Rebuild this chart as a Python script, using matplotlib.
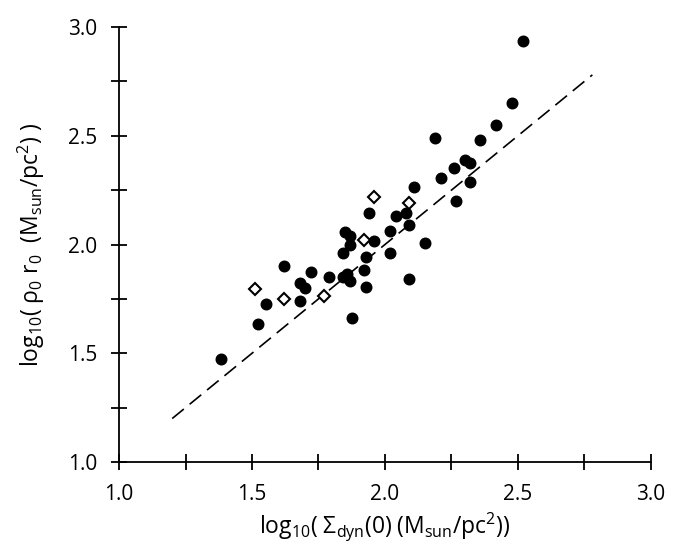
import matplotlib
matplotlib.use('Agg')
import matplotlib.pyplot as plt
from matplotlib.ticker import MultipleLocator

plt.rcParams['font.family'] = ['Open Sans', 'DejaVu Sans']
plt.rcParams['mathtext.fontset'] = 'custom'
plt.rcParams['mathtext.rm'] = 'Open Sans'
plt.rcParams['mathtext.it'] = 'Open Sans'
plt.rcParams['mathtext.default'] = 'regular'

# filled circles: log10 Sigma_dyn(0), log10 rho0 r0
dots_x = [1.382, 1.521, 1.553, 1.619, 1.680, 1.699, 1.680, 1.721, 1.789, 1.841,
          1.850, 1.868, 1.868, 1.841, 1.856, 1.868, 1.878, 1.922, 1.929, 1.929,
          1.939, 1.959, 2.019, 2.019, 2.040, 2.079, 2.090, 2.090, 2.109, 2.150,
          2.211, 2.518, 2.476, 2.417, 2.357, 2.188, 2.301, 2.320, 2.259, 2.320,
          2.269]
dots_y = [1.474, 1.634, 1.726, 1.901, 1.824, 1.801, 1.742, 1.875, 1.852, 1.960,
          2.059, 2.041, 1.998, 1.852, 1.864, 1.834, 1.664, 1.883, 1.941, 1.806,
          2.143, 2.016, 2.062, 1.962, 2.131, 2.146, 2.090, 1.843, 2.263, 2.005,
          2.304, 2.937, 2.652, 2.549, 2.480, 2.491, 2.389, 2.376, 2.353, 2.287,
          2.200]

# open diamonds
diam_x = [1.511, 1.620, 1.771, 1.921, 1.959, 2.090]
diam_y = [1.795, 1.751, 1.763, 2.021, 2.220, 2.192]

# one-to-one reference line
line_x = [1.2, 2.78]
line_y = [1.2, 2.78]

fig = plt.figure(figsize=(6.88, 5.52), dpi=100)
ax = fig.add_axes([0.173, 0.163, 0.773, 0.788])

ax.plot(line_x, line_y, color='black', lw=1.2, dashes=(9, 4.5))
ax.plot(dots_x, dots_y, 'o', color='black', ms=7.6, ls='none')
ax.plot(diam_x, diam_y, 'D', mfc='white', mec='black', mew=1.5, ms=6.5, ls='none')

ax.set_xlim(1.0, 3.0)
ax.set_ylim(1.0, 3.0)
ax.xaxis.set_major_locator(MultipleLocator(0.5))
ax.yaxis.set_major_locator(MultipleLocator(0.5))
ax.xaxis.set_minor_locator(MultipleLocator(0.25))
ax.yaxis.set_minor_locator(MultipleLocator(0.25))
ax.xaxis.set_major_formatter(lambda v, p: f'{v:.1f}')
ax.yaxis.set_major_formatter(lambda v, p: f'{v:.1f}')

for s in ['top', 'right']:
    ax.spines[s].set_visible(False)
for s in ['left', 'bottom']:
    ax.spines[s].set_linewidth(1.3)

ax.tick_params(which='both', direction='inout', length=11.5, width=1.3, labelsize=15)
ax.tick_params(axis='x', which='major', pad=10)
ax.tick_params(axis='y', which='major', pad=10)

ax.set_xlabel(r'log$_{10}$( Σ$_{dyn}$(0) (M$_{sun}$/pc$^{2}$))', fontsize=16.5, labelpad=4)
ax.set_ylabel(r'log$_{10}$( ρ$_0$ r$_0$  (M$_{sun}$/pc$^{2}$) )', fontsize=16.5, labelpad=15)

fig.savefig('out.png', dpi=100)
